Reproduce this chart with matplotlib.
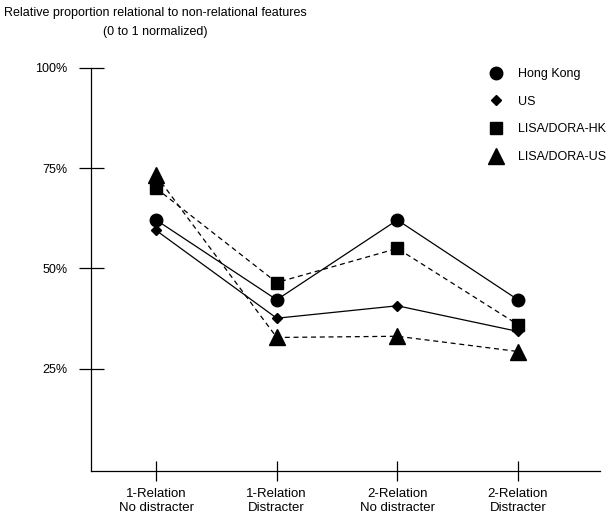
import numpy as np
import matplotlib
matplotlib.use('Agg')
import matplotlib.pyplot as plt
from matplotlib.lines import Line2D

plt.rcParams['font.family'] = ['Liberation Sans', 'DejaVu Sans']
plt.rcParams['font.size'] = 9

conditions = ['1-Relation\nNo distracter', '1-Relation\nDistracter',
              '2-Relation\nNo distracter', '2-Relation\nDistracter']
hong_kong = [62.1, 42.2, 62.1, 42.2]
us = [59.5, 37.6, 40.7, 34.3]
lisa_hk = [70.0, 46.5, 55.0, 36.0]
lisa_us = [73.2, 32.8, 33.1, 29.3]
ytick_vals = [25, 50, 75, 100]
ytick_labels = ['25%', '50%', '75%', '100%']

fig = plt.figure(figsize=(6.10, 5.21), dpi=100)
ax = fig.add_axes([91/610., 1-471/521., 509/610., 403/521.])

x = np.arange(len(conditions))
dash = (0, (4, 3))
ax.plot(x, hong_kong, color='k', lw=0.9, marker='o', ms=9, ls='-')
ax.plot(x, us, color='k', lw=0.9, marker='D', ms=5.5, ls='-')
ax.plot(x, lisa_hk, color='k', lw=0.9, marker='s', ms=9, ls=dash)
ax.plot(x, lisa_us, color='k', lw=0.9, marker='^', ms=11, ls=dash)

ax.set_xlim(-0.54, 3.68)
ax.set_ylim(-0.5, 100)
ax.spines['top'].set_visible(False)
ax.spines['right'].set_visible(False)
ax.spines['left'].set_linewidth(0.9)
ax.spines['bottom'].set_linewidth(0.9)

ax.set_yticks(ytick_vals)
ax.set_yticklabels(ytick_labels)
ax.set_xticks(x)
ax.set_xticklabels(conditions, fontsize=9.5, linespacing=1.3)
ax.tick_params(axis='y', direction='inout', length=18, width=0.9, pad=8)
ax.tick_params(axis='x', direction='inout', length=14, width=0.9, pad=5)

handles = [Line2D([], [], color='k', marker='o', ms=9, ls='none'),
           Line2D([], [], color='k', marker='D', ms=5.5, ls='none'),
           Line2D([], [], color='k', marker='s', ms=9, ls='none'),
           Line2D([], [], color='k', marker='^', ms=11, ls='none')]
ax.legend(handles, ['Hong Kong', 'US', 'LISA/DORA-HK', 'LISA/DORA-US'],
          loc='upper left', bbox_to_anchor=(478/610., 1-58/521.),
          bbox_transform=fig.transFigure, frameon=False, borderpad=0.3,
          labelspacing=1.25, handlelength=1.3, handletextpad=1.1)

fig.text(155/610., 1-13/521., 'Relative proportion relational to non-relational features',
         ha='center', va='center')
fig.text(155/610., 1-32/521., '(0 to 1 normalized)', ha='center', va='center')

fig.savefig('out.png', dpi=100)
